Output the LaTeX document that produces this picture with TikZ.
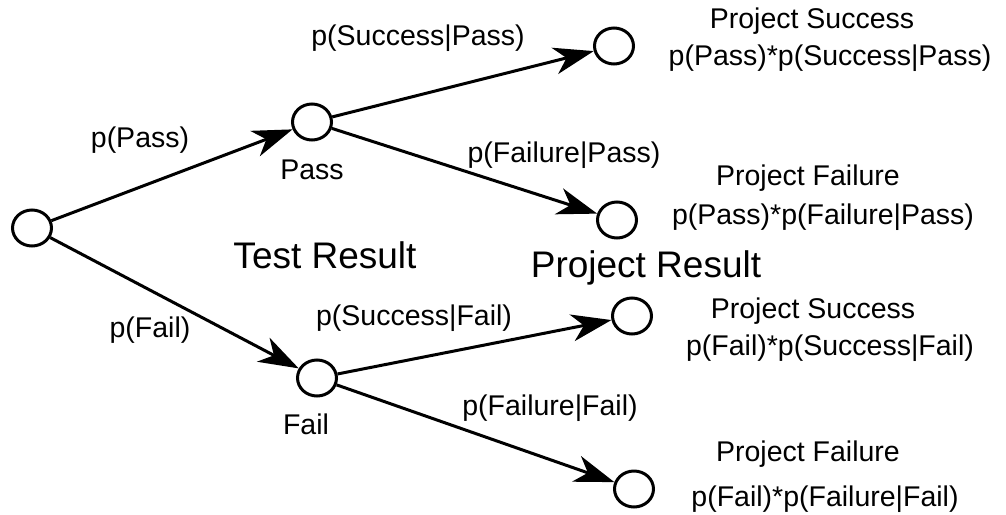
\documentclass[tikz,border=0pt]{standalone}
\usepackage{fontspec}
\setmainfont{Liberation Sans}
\usetikzlibrary{shapes.geometric,arrows.meta}
\begin{document}
\begin{tikzpicture}[x=1pt,y=-1pt,
  chance/.style={ellipse,draw,line width=3pt,minimum width=39pt,minimum height=36pt,inner sep=0pt},
  branch/.style={line width=3pt,-{Stealth[length=40pt,width=27pt,inset=12pt]}},
  lbl/.style={font=\fontsize{28.5}{32}\selectfont,inner sep=0pt,anchor=center},
  big/.style={font=\fontsize{37}{40}\selectfont,inner sep=0pt,anchor=center},
  outc/.style={font=\fontsize{28.5}{32}\selectfont,inner sep=0pt,anchor=center}]
\useasboundingbox (0,0) rectangle (1006,514);
\node[chance] (root) at (32,228) {};
\node[chance] (pass) at (312,122) {};
\node[chance] (fail) at (317,378) {};
\node[chance] (l1) at (614,46) {};
\node[chance] (l2) at (617,220) {};
\node[chance] (l3) at (632,316) {};
\node[chance] (l4) at (634,489) {};
\draw[branch] (root) -- (pass);
\draw[branch] (root) -- (fail);
\draw[branch] (pass) -- (l1);
\draw[branch] (pass) -- (l2);
\draw[branch] (fail) -- (l3);
\draw[branch] (fail) -- (l4);
\node[lbl] (tpp) at (140,140) {p(Pass)};
\node[lbl] (tpf) at (150,330) {p(Fail)};
\node[lbl] (tpass) at (312,170) {Pass};
\node[lbl] (tfail) at (306,424) {Fail};
\node[lbl] (tsp) at (418,38) {p(Success|Pass)};
\node[lbl] (tfp) at (564,155) {p(Failure|Pass)};
\node[lbl] (tsf) at (414,318) {p(Success|Fail)};
\node[lbl] (tff) at (550,408) {p(Failure|Fail)};
\node[big] (tr) at (325,255) {Test Result};
\node[big] (pr) at (646,268) {Project Result};
\node[outc] (o1a) at (812,21) {Project Success};
\node[outc] (o1b) at (830,58) {p(Pass)*p(Success|Pass)};
\node[outc] (o2a) at (808,178) {Project Failure};
\node[outc] (o2b) at (823,217) {p(Pass)*p(Failure|Pass)};
\node[outc] (o3a) at (813,311) {Project Success};
\node[outc] (o3b) at (830,348) {p(Fail)*p(Success|Fail)};
\node[outc] (o4a) at (808,454) {Project Failure};
\node[outc] (o4b) at (825,499) {p(Fail)*p(Failure|Fail)};
\end{tikzpicture}
\end{document}
